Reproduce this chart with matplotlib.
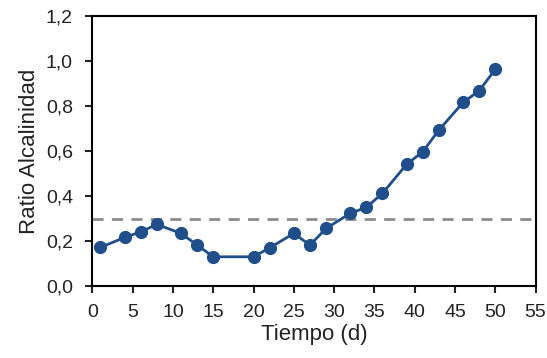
import matplotlib
matplotlib.use("Agg")
import matplotlib.pyplot as plt
from matplotlib.ticker import FuncFormatter

# Data
dias = [1, 4, 6, 8, 11, 13, 15, 20, 22, 25, 27, 29, 32, 34, 36, 39, 41, 43, 46, 48, 50]
ratio = [0.172, 0.216, 0.241, 0.274, 0.234, 0.182, 0.130, 0.130, 0.170, 0.234, 0.182,
         0.256, 0.323, 0.350, 0.412, 0.541, 0.597, 0.693, 0.816, 0.868, 0.963]
umbral = 0.3

plt.rcParams['font.family'] = ['Liberation Sans', 'DejaVu Sans']

fig = plt.figure(figsize=(5.47, 3.58), dpi=100)
ax = fig.add_axes([0.169, 0.201, 0.810, 0.754])

blue = "#1f4e8a"
ax.plot(dias, ratio, color=blue, lw=2, marker="o", markersize=8.5,
        markerfacecolor=blue, markeredgecolor=blue, zorder=3)
ax.axhline(umbral, color="#8c8c8c", lw=2, ls=(0, (4, 3)), zorder=2)

ax.set_xlim(0, 55)
ax.set_ylim(0, 1.2)
ax.set_xticks(range(0, 56, 5))
ax.set_yticks([0, 0.2, 0.4, 0.6, 0.8, 1.0, 1.2])
ax.yaxis.set_major_formatter(FuncFormatter(lambda v, p: f"{v:.1f}".replace(".", ",")))

for s in ax.spines.values():
    s.set_linewidth(1.5)
    s.set_color("black")
ax.tick_params(direction="out", length=5, width=1.5, labelsize=14, colors="#222222")
ax.tick_params(axis="x", pad=8)
ax.tick_params(axis="y", pad=9)

ax.set_xlabel("Tiempo (d)", fontsize=16, color="#222222", labelpad=2)
ax.set_ylabel("Ratio Alcalinidad", fontsize=16, color="#222222", labelpad=4)

fig.savefig("out.png", dpi=100)
